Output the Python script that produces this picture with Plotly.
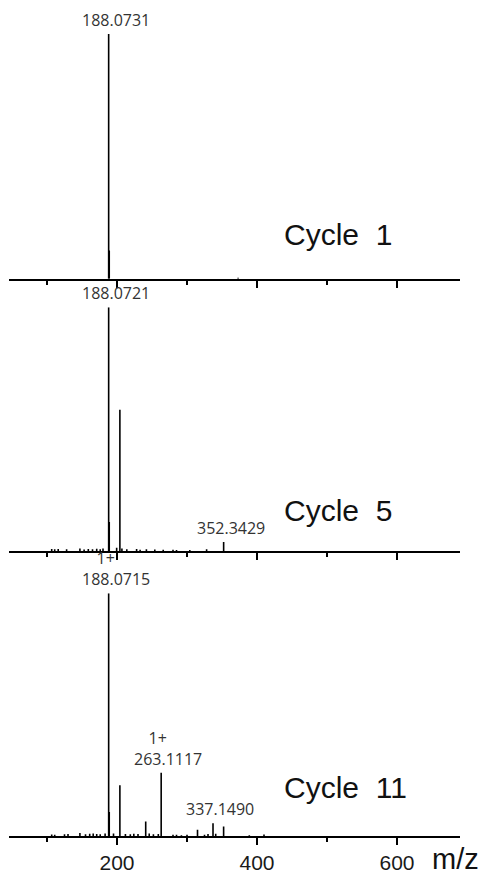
import plotly.graph_objects as go

# ---------------- data ----------------
tick_vals = [200, 400, 600]
tick_text = ["200", "400", "600"]
cycle_names = ["Cycle  1", "Cycle  5", "Cycle  11"]

# Cycle 1 spectrum (relative intensity)
c1_mz = [188.07, 188.9, 373.0]
c1_int = [1.0, 0.115, 0.004]

# Cycle 5 spectrum
c5_mz = [106.7, 111.0, 116.0, 128.0, 147.0, 153.0, 159.0, 165.0, 171.0, 176.0, 180.0,
         188.07, 188.9, 199.5, 204.1, 207.0, 214.0, 228.0, 233.0, 242.0, 254.0, 266.0,
         280.0, 285.0, 304.0, 328.0, 352.34]
c5_int = [0.010, 0.008, 0.010, 0.009, 0.012, 0.007, 0.010, 0.008, 0.011, 0.009, 0.012,
          1.0, 0.12, 0.015, 0.58, 0.012, 0.008, 0.010, 0.006, 0.008, 0.007, 0.006,
          0.006, 0.005, 0.005, 0.008, 0.038]

# Cycle 11 spectrum
c11_mz = [106.7, 111.0, 125.0, 130.0, 147.0, 155.0, 161.0, 166.0, 171.0, 176.0, 183.0,
          188.07, 188.9, 195.0, 204.1, 212.0, 219.0, 224.0, 230.0, 241.0, 246.0, 252.0,
          259.0, 263.11, 280.0, 285.0, 292.0, 300.0, 315.0, 325.0, 330.0, 337.15, 341.0,
          352.3, 389.0, 410.0]
c11_int = [0.008, 0.006, 0.009, 0.010, 0.014, 0.009, 0.011, 0.012, 0.010, 0.009, 0.012,
           1.0, 0.10, 0.012, 0.21, 0.010, 0.009, 0.011, 0.010, 0.061, 0.012, 0.009,
           0.010, 0.261, 0.006, 0.006, 0.004, 0.006, 0.027, 0.006, 0.010, 0.054, 0.011,
           0.040, 0.004, 0.008]

# peak labels: m/z, intensity, charge ("" if none), text
c1_lab_mz = [188.07]
c1_lab_int = [1.0]
c1_lab_chg = [""]
c1_lab_txt = ["188.0731"]

c5_lab_mz = [188.07, 352.34]
c5_lab_int = [1.0, 0.038]
c5_lab_chg = ["", ""]
c5_lab_txt = ["188.0721", "352.3429"]

c11_lab_mz = [188.07, 263.11, 337.15]
c11_lab_int = [1.0, 0.261, 0.054]
c11_lab_chg = ["1+", "1+", ""]
c11_lab_txt = ["188.0715", "263.1117", "337.1490"]

# ---------------- layout geometry ----------------
W, H = 480, 874
x_range = [45.7, 690]
x_dom = [9 / W, 460 / W]
# (baseline px, top px) for each panel
panel_px = [(282, 34.3), (557.7, 310.7), (846, 600)]
cycle_y_px = [237.3, 516.7, 796.7]


def sticks(mz, inten):
    xs, ys = [], []
    for m, h in zip(mz, inten):
        xs += [m, m, None]
        ys += [0, h, None]
    return xs, ys


fig = go.Figure()
spectra = [(c1_mz, c1_int), (c5_mz, c5_int), (c11_mz, c11_int)]
for i, (mz, inten) in enumerate(spectra):
    xs, ys = sticks(mz, inten)
    ax = "" if i == 0 else str(i + 1)
    fig.add_trace(go.Scatter(x=xs, y=ys, mode="lines",
                             line=dict(color="black", width=1.6),
                             xaxis="x" + ax, yaxis="y" + ax,
                             hoverinfo="skip", showlegend=False))

layout = dict(width=W, height=H, margin=dict(l=0, r=0, t=0, b=0),
              paper_bgcolor="white", plot_bgcolor="white", showlegend=False)

for i, (base, top) in enumerate(panel_px):
    ax = "" if i == 0 else str(i + 1)
    dom = [(H - base) / H, (H - top) / H]
    layout["xaxis" + ax] = dict(
        domain=x_dom, range=x_range, showgrid=False, zeroline=False,
        showline=True, linecolor="black", linewidth=1.6,
        ticks="outside", tickvals=tick_vals, ticktext=tick_text,
        ticklen=7, tickwidth=1.5, tickcolor="black",
        minor=dict(dtick=100, tick0=0, ticks="outside", ticklen=4,
                   tickwidth=1.5, tickcolor="black", showgrid=False),
        showticklabels=(i == 2),
        tickfont=dict(family="Liberation Sans, Arial", size=21, color="#1a1a1a"),
        anchor="y" + ax,
    )
    layout["yaxis" + ax] = dict(domain=dom, range=[0, 1.0], visible=False,
                                showgrid=False, zeroline=False, anchor="x" + ax)

fig.update_layout(**layout)

lab_font = dict(family="Open Sans", size=16, color="#333333")
annots = []
label_sets = [(c1_lab_mz, c1_lab_int, c1_lab_chg, c1_lab_txt),
              (c5_lab_mz, c5_lab_int, c5_lab_chg, c5_lab_txt),
              (c11_lab_mz, c11_lab_int, c11_lab_chg, c11_lab_txt)]
for i, (ms, hs, cs, ts) in enumerate(label_sets):
    ax = "" if i == 0 else str(i + 1)
    for m, h, c, t in zip(ms, hs, cs, ts):
        txt = t if not c else c + "&nbsp;" * 5 + "<br>" + t
        annots.append(dict(x=m, y=h, xref="x" + ax, yref="y" + ax, text=txt,
                           showarrow=False, xanchor="center", yanchor="bottom",
                           xshift=7, yshift=1, font=lab_font))

for name, ypx in zip(cycle_names, cycle_y_px):
    annots.append(dict(x=282 / W, y=(H - ypx) / H, xref="paper", yref="paper",
                       text=name.replace("  ", "&nbsp;&nbsp;"), showarrow=False,
                       xanchor="left", yanchor="middle",
                       font=dict(family="Liberation Sans, Arial", size=30, color="#111111")))

annots.append(dict(x=430 / W, y=(H - 851) / H, xref="paper", yref="paper",
                   text="m/z", showarrow=False, xanchor="left", yanchor="top",
                   font=dict(family="Liberation Sans, Arial", size=29, color="#111111")))

fig.update_layout(annotations=annots)
fig.write_html("out.html")
